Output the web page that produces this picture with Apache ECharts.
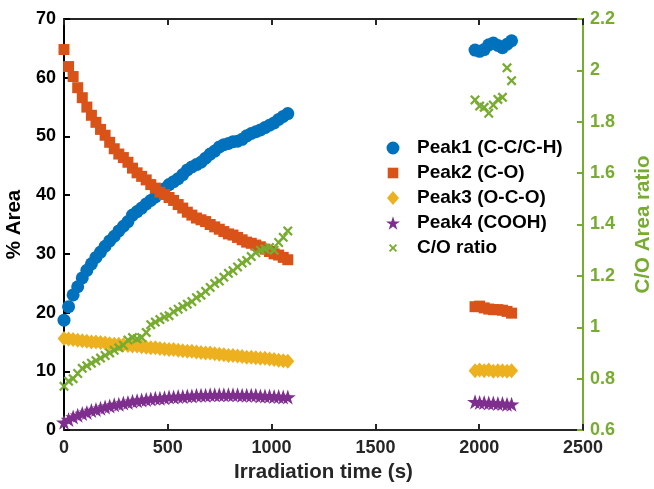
<!DOCTYPE html>
<html>
<head>
<meta charset="utf-8">
<script src="https://cdn.jsdelivr.net/npm/echarts@6/dist/echarts.min.js"></script>
<style>
  html, body { margin: 0; padding: 0; background: #fff; }
  #chart { width: 654px; height: 489px; }
</style>
</head>
<body>
<div id="chart"></div>
<script>
// Irradiation times (s): first run 0–1078 s, second run 1980–2156 s
const times = [
  0, 22, 44, 66, 88, 110, 132, 154, 176, 198,
  220, 242, 264, 286, 308, 330, 352, 374, 396, 418,
  440, 462, 484, 506, 528, 550, 572, 594, 616, 638,
  660, 682, 704, 726, 748, 770, 792, 814, 836, 858,
  880, 902, 924, 946, 968, 990, 1012, 1034, 1056, 1078,
  1980, 2002, 2024, 2046, 2068, 2090, 2112, 2134, 2156
];

// Peak areas (%)
const peak1 = [
  18.7, 21.0, 23.0, 24.4, 25.9, 27.2, 28.3, 29.4, 30.3, 31.3,
  32.2, 33.0, 33.9, 34.7, 35.5, 36.6, 37.2, 37.8, 38.5, 39.1,
  39.7, 40.4, 41.1, 41.8, 42.3, 42.8, 43.5, 44.3, 44.8, 45.2,
  45.6, 46.3, 47.0, 47.5, 48.2, 48.6, 48.8, 49.1, 49.2, 49.5,
  50.1, 50.5, 50.8, 51.1, 51.5, 51.9, 52.3, 52.9, 53.4, 53.9,
  64.7, 64.5, 64.8, 65.6, 65.9, 65.5, 65.1, 65.7, 66.3
];
const peak2 = [
  64.8, 61.9, 60.2, 58.3, 56.6, 55.0, 53.6, 52.4, 51.2, 50.2,
  49.0, 47.9, 47.0, 46.4, 45.6, 44.6, 43.8, 43.2, 42.6, 41.8,
  41.2, 40.5, 40.1, 39.6, 39.1, 38.4, 37.8, 37.1, 36.6, 36.1,
  35.8, 35.5, 35.0, 34.6, 34.2, 33.8, 33.4, 33.2, 32.8, 32.4,
  32.0, 31.8, 31.5, 31.2, 30.8, 30.4, 30.0, 29.8, 29.4, 29.0,
  21.0, 21.1, 20.8, 20.6, 20.5, 20.5, 20.4, 20.2, 19.9
];
const peak3 = [
  15.6, 15.5, 15.4, 15.3, 15.2, 15.1, 15.0, 15.0, 14.9, 14.8,
  14.7, 14.6, 14.6, 14.5, 14.4, 14.3, 14.3, 14.2, 14.1, 14.0,
  14.0, 13.9, 13.8, 13.7, 13.7, 13.6, 13.5, 13.4, 13.4, 13.3,
  13.2, 13.1, 13.1, 13.0, 12.9, 12.8, 12.7, 12.7, 12.6, 12.5,
  12.4, 12.4, 12.3, 12.2, 12.2, 12.1, 12.0, 11.9, 11.8, 11.7,
  10.1, 10.2, 10.1, 10.2, 10.0, 10.1, 10.1, 10.0, 10.1
];
const peak4 = [
  1.3, 1.8, 2.2, 2.5, 2.8, 3.0, 3.3, 3.5, 3.7, 3.9,
  4.1, 4.3, 4.4, 4.6, 4.7, 4.9, 5.0, 5.1, 5.2, 5.3,
  5.4, 5.4, 5.5, 5.6, 5.6, 5.7, 5.7, 5.8, 5.8, 5.9,
  5.9, 5.9, 6.0, 6.0, 6.0, 6.0, 6.0, 6.0, 6.0, 5.9,
  5.9, 5.9, 5.9, 5.8, 5.8, 5.8, 5.7, 5.7, 5.6, 5.6,
  4.8, 4.7, 4.7, 4.6, 4.6, 4.5, 4.5, 4.4, 4.4
];
// C/O area ratio (right axis)
const coRatio = [
  0.77, 0.79, 0.80, 0.82, 0.84, 0.85, 0.86, 0.87, 0.88, 0.89,
  0.90, 0.91, 0.92, 0.93, 0.95, 0.96, 0.955, 0.96, 0.98, 1.01,
  1.02, 1.03, 1.04, 1.045, 1.06, 1.07, 1.08, 1.09, 1.10, 1.115,
  1.125, 1.14, 1.155, 1.17, 1.18, 1.195, 1.21, 1.22, 1.235, 1.25,
  1.26, 1.275, 1.29, 1.30, 1.305, 1.31, 1.30, 1.33, 1.35, 1.375,
  1.885, 1.861, 1.856, 1.833, 1.865, 1.887, 1.895, 2.01, 1.96
];

const seriesNames = ['Peak1 (C-C/C-H)', 'Peak2 (C-O)', 'Peak3 (O-C-O)', 'Peak4 (COOH)', 'C/O ratio'];

const FONT = '"Liberation Sans", Arial, Helvetica, sans-serif';
const GREEN = '#77AC30';
const STAR = 'path://M0,-10 L2.245,-3.09 L9.51,-3.09 L3.633,1.18 L5.88,8.09 L0,3.82 L-5.88,8.09 L-3.633,1.18 L-9.51,-3.09 L-2.245,-3.09 Z';
const CROSS = 'path://M0,1.6 L1.6,0 L5,3.4 L8.4,0 L10,1.6 L6.6,5 L10,8.4 L8.4,10 L5,6.6 L1.6,10 L0,8.4 L3.4,5 Z';
// legend keys: same shapes with empty margins so they draw smaller in the key box
const KEY_CIRCLE = 'path://M-0.5,-0.5 M12.5,12.5 M6,0 A6,6 0 1 1 5.99,0 Z';
const KEY_RECT = 'path://M-1.6,-1.6 M11.6,11.6 M0,0 L10,0 L10,10 L0,10 Z';
const KEY_DIAMOND = 'path://M-1,0 M13,0 M6,0 L12,7 L6,14 L0,7 Z';
const KEY_CROSS = 'path://M-3.5,-3.5 M13.5,13.5 M0,1.6 L1.6,0 L5,3.4 L8.4,0 L10,1.6 L6.6,5 L10,8.4 L8.4,10 L5,6.6 L1.6,10 L0,8.4 L3.4,5 Z';

const pairs = vals => times.map((t, i) => [t, vals[i]]);

const tickLabel = (color) => ({
  color: color, fontFamily: FONT, fontWeight: 'bold', fontSize: 18
});

const chart = echarts.init(document.getElementById('chart'), null, { renderer: 'canvas' });

chart.setOption({
  animation: false,
  backgroundColor: '#fff',
  grid: { left: 64, right: 71, top: 19, bottom: 59, containLabel: false, outerBoundsMode: 'none' },
  legend: {
    orient: 'vertical',
    left: 381,
    top: 133,
    itemWidth: 14,
    itemHeight: 14,
    itemGap: 5,
    symbolKeepAspect: true,
    data: [
      { name: seriesNames[0], icon: KEY_CIRCLE },
      { name: seriesNames[1], icon: KEY_RECT },
      { name: seriesNames[2], icon: KEY_DIAMOND },
      { name: seriesNames[3], icon: STAR },
      { name: seriesNames[4], icon: KEY_CROSS }
    ],
    textStyle: {
      fontFamily: FONT, fontWeight: 'bold', fontSize: 19, color: '#000',
      lineHeight: 20, padding: [0, 0, 0, 12]
    }
  },
  xAxis: [
    {
      type: 'value', position: 'bottom', min: 0, max: 2500, interval: 500,
      name: 'Irradiation time (s)', nameLocation: 'middle', nameGap: 31,
      nameTextStyle: { fontFamily: FONT, fontWeight: 'bold', fontSize: 20.5, color: '#262626' },
      axisLine: { show: true, onZero: false, lineStyle: { color: '#262626', width: 2 } },
      axisTick: { show: true, inside: true, length: 6, lineStyle: { color: '#262626', width: 2 } },
      axisLabel: Object.assign({ margin: 9, formatter: v => String(v) }, tickLabel('#262626')),
      splitLine: { show: false }
    },
    {
      type: 'value', position: 'top', min: 0, max: 2500, interval: 500,
      axisLine: { show: true, onZero: false, lineStyle: { color: '#262626', width: 2 } },
      axisTick: { show: true, inside: true, length: 6, lineStyle: { color: '#262626', width: 2 } },
      axisLabel: { show: false },
      splitLine: { show: false }
    }
  ],
  yAxis: [
    {
      type: 'value', position: 'left', min: 0, max: 70, interval: 10,
      name: '% Area', nameLocation: 'middle', nameGap: 35, nameRotate: 90,
      nameTextStyle: { fontFamily: FONT, fontWeight: 'bold', fontSize: 20.5, color: '#000' },
      axisLine: { show: true, onZero: false, lineStyle: { color: '#000', width: 2 } },
      axisTick: { show: true, inside: true, length: 6, lineStyle: { color: '#000', width: 2 } },
      axisLabel: Object.assign({ margin: 8 }, tickLabel('#000')),
      splitLine: { show: false }
    },
    {
      type: 'value', position: 'right', min: 0.6, max: 2.2, interval: 0.2,
      name: 'C/O Area ratio', nameLocation: 'middle', nameGap: 50, nameRotate: 90,
      nameTextStyle: { fontFamily: FONT, fontWeight: 'bold', fontSize: 20.5, color: GREEN },
      axisLine: { show: true, onZero: false, lineStyle: { color: GREEN, width: 2 } },
      axisTick: { show: true, inside: true, length: 6, lineStyle: { color: GREEN, width: 2 } },
      axisLabel: Object.assign({ margin: 7 }, tickLabel(GREEN)),
      splitLine: { show: false }
    }
  ],
  series: [
    {
      name: seriesNames[0], type: 'scatter', yAxisIndex: 0,
      symbol: 'circle', symbolSize: 13,
      itemStyle: { color: '#0072BD', opacity: 1 },
      data: pairs(peak1)
    },
    {
      name: seriesNames[1], type: 'scatter', yAxisIndex: 0,
      symbol: 'rect', symbolSize: 11,
      itemStyle: { color: '#D95319', opacity: 1 },
      data: pairs(peak2)
    },
    {
      name: seriesNames[2], type: 'scatter', yAxisIndex: 0,
      symbol: 'diamond', symbolSize: [13, 15],
      itemStyle: { color: '#EDB120', opacity: 1 },
      data: pairs(peak3)
    },
    {
      name: seriesNames[3], type: 'scatter', yAxisIndex: 0,
      symbol: STAR, symbolSize: [16, 15],
      itemStyle: { color: '#7E2F8E', opacity: 1 },
      data: pairs(peak4)
    },
    {
      name: seriesNames[4], type: 'scatter', yAxisIndex: 1,
      symbol: CROSS, symbolSize: 10,
      itemStyle: { color: GREEN, opacity: 1 },
      data: pairs(coRatio)
    }
  ]
});
</script>
</body>
</html>
